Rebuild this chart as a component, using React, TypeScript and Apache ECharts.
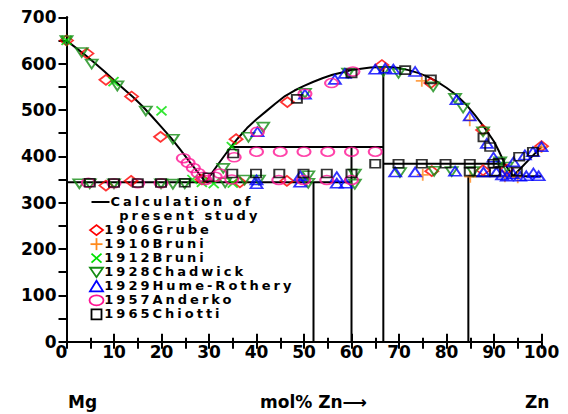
import React, { useEffect, useRef } from 'react';
import * as echarts from 'echarts';

// ---------- calculated phase boundaries (mol% Zn, °C) ----------
const calcMgLiquidus = [[0, 650], [2, 634], [4, 618], [6, 601], [8, 583], [10, 564], [12, 546], [14, 528], [16, 508], [18, 486], [20, 463], [22, 440], [24, 414], [26, 387], [28, 361], [29.3, 344]];
const calcMgZn2Liquidus = [[29.3, 344], [30.5, 362], [32, 384], [33.5, 405], [34.6, 420], [36, 438], [38, 461], [40, 480], [42, 497], [44, 514], [46, 530], [48, 542], [50, 552], [52, 561], [54, 569], [56, 576], [58, 581], [60, 586], [62, 589], [64, 591.5], [66.7, 593], [68, 592.5], [70, 590.5], [72, 586], [74, 580], [76, 572], [78, 561], [80, 548], [82, 533], [84, 513], [86, 489], [88, 462], [90, 432], [91, 412], [92.3, 383]];
const calcZnLiquidus = [[92.3, 383], [94, 357], [100, 421]];
const calcEutecticMg = [[0, 344], [60, 344]];
const calcPeritectic420 = [[34.6, 420], [66.7, 420]];
const calcMg12Zn13 = [[52, 344], [52, 0]];
const calcMg2Zn3 = [[60, 420], [60, 0]];
const calcMgZn2 = [[66.7, 593], [66.7, 0]];
const calcPeritectic383 = [[66.7, 384], [92.3, 384]];
const calcEutecticZn = [[84.6, 357], [100, 357]];
const calcMg2Zn11 = [[84.6, 357], [84.6, 0]];

// ---------- experimental data ----------
const grube1906 = [[0, 650], [4.3, 622], [8.3, 565], [13.7, 529], [19.8, 442], [35.7, 437], [46.5, 517], [66.4, 597], [76.7, 558], [87.6, 457], [100, 422], [8.3, 337], [13.6, 347], [28.5, 350], [36.5, 344], [46.4, 347], [76.9, 368], [87.7, 370], [92.7, 372]];
const bruni1910 = [[74.8, 563], [84.9, 478], [100, 420], [75, 360], [85, 356], [92.3, 357], [95, 355]];
const bruni1912 = [[0, 650], [9.9, 561], [20, 498], [34.8, 421], [26.5, 350], [28.5, 344], [31, 341], [35, 342]];
const chadwick1928 = [[0, 650], [3.2, 624], [5.3, 599], [10.7, 552], [16.7, 498], [22.4, 437], [33, 374], [38.3, 441], [41.4, 463], [50.2, 536], [59.3, 580], [66.7, 583], [69.9, 579], [77.2, 550], [81.8, 525], [83.5, 504], [87.7, 453], [91.3, 388], [2.7, 341], [4.9, 341], [10, 341], [19.9, 341], [22.4, 340], [24.9, 341], [33.4, 343], [37.5, 349], [40.5, 349], [50.9, 358], [50.9, 342], [60.7, 362], [60.7, 340], [70.2, 365], [77.4, 368], [81.1, 367], [85.6, 367], [92.7, 377]];
const humeRothery1929 = [[40.2, 453], [50.2, 534], [56.5, 566], [58.6, 579], [65, 588], [67.1, 590], [68.8, 588], [73.4, 583], [82.1, 522], [84.9, 487], [88.5, 428], [89.9, 398], [94.1, 388], [96.5, 403], [98.2, 410], [100, 421], [40, 349], [40, 341], [49.2, 358], [49.2, 344], [56.9, 356], [56.9, 342], [58.8, 342], [69.2, 366], [73.4, 366], [81.8, 368], [87.8, 366], [90.5, 366], [91.7, 360], [92.7, 357], [94, 362], [95.5, 357], [96.8, 358], [98.3, 364], [99.4, 358]];
const anderko1957 = [[4.6, 343], [10, 342], [15, 342], [19.9, 342], [24.6, 396], [25.6, 386], [26.7, 375], [27.7, 364], [28.8, 356], [29.2, 349], [31.3, 356], [32.3, 363], [35.3, 398], [34.8, 350], [44.7, 349], [49.9, 349], [54.8, 349], [60, 349], [40, 410], [45, 410], [50, 410], [55, 410], [60, 410], [65, 410], [40.2, 453], [50.2, 535], [55.8, 558], [60.3, 583]];
const chiotti1965 = [[4.9, 343], [10, 342.5], [15, 342.5], [19.9, 342.5], [24.9, 343], [29.9, 355], [35.1, 406], [34.9, 363], [39.9, 363], [44.8, 363], [49.9, 363], [54.8, 363], [60, 363], [48.5, 524], [60, 579], [65, 384], [69.9, 384], [74.8, 384], [79.8, 384], [84.9, 384], [89.9, 384], [71.3, 586], [76.7, 566], [87.8, 441], [89.2, 420], [91, 386], [95.3, 399], [98.2, 410], [84.9, 367], [90.2, 367], [94.8, 367]];

const seriesNames = ['1906Grube', '1910Bruni', '1912Bruni', '1928Chadwick', '1929Hume-Rothery', '1957Anderko', '1965Chiotti'];
const datasets = [grube1906, bruni1910, bruni1912, chadwick1928, humeRothery1929, anderko1957, chiotti1965];
const calcName = 'Calculation of present study';
const calcLines = ['Calculation of', 'present study'];
const bottomLabels = ['Mg', 'mol% Zn\u27F6', 'Zn'];

const colors = ['#ff0000', '#ff8a1c', '#00e000', '#148c14', '#0000ff', '#ff1493', '#000000'];
const symbols = [
  'diamond',
  'path://M5,0L5,10M0,5L10,5',
  'path://M0,0L10,10M10,0L0,10',
  'path://M0,0L10,0L5,8.66Z',
  'triangle',
  'path://M0,5A5,5,0,1,1,10,5A5,5,0,1,1,0,5Z',
  'rect',
];
const sizes = [[13, 10], [12, 12], [10, 9], [12, 9], [12, 9], [13, 9], [10, 8]];

const SPACED = 'Verdana, DejaVu Sans';
const PLAIN = 'DejaVu Sans';

function legendSymbol(i: number, cx: number, cy: number) {
  const st = { stroke: colors[i], fill: 'none', lineWidth: 1.8 };
  switch (i) {
    case 0:
      return [{ type: 'polygon', shape: { points: [[cx - 6.5, cy], [cx, cy - 5], [cx + 6.5, cy], [cx, cy + 5]] }, style: st }];
    case 1:
      return [
        { type: 'line', shape: { x1: cx - 6, y1: cy, x2: cx + 6, y2: cy }, style: st },
        { type: 'line', shape: { x1: cx, y1: cy - 6, x2: cx, y2: cy + 6 }, style: st },
      ];
    case 2:
      return [
        { type: 'line', shape: { x1: cx - 5, y1: cy - 4.5, x2: cx + 5, y2: cy + 4.5 }, style: st },
        { type: 'line', shape: { x1: cx + 5, y1: cy - 4.5, x2: cx - 5, y2: cy + 4.5 }, style: st },
      ];
    case 3:
      return [{ type: 'polygon', shape: { points: [[cx - 6.5, cy - 4.5], [cx + 6.5, cy - 4.5], [cx, cy + 5]] }, style: st }];
    case 4:
      return [{ type: 'polygon', shape: { points: [[cx, cy - 5.5], [cx + 6.5, cy + 5], [cx - 6.5, cy + 5]] }, style: st }];
    case 5:
      return [{ type: 'ellipse', shape: { cx, cy, rx: 7, ry: 5 }, style: st }];
    default:
      return [{ type: 'rect', shape: { x: cx - 5, y: cy - 5, width: 10, height: 10 }, style: st }];
  }
}

function buildOption() {
  const rowY = (k: number) => 202 + 14.05 * k;
  const legendFont = `bold 13px ${SPACED}`;
  const graphics: any[] = [];
  graphics.push({ type: 'line', shape: { x1: 91.5, y1: rowY(0), x2: 109.5, y2: rowY(0) }, style: { stroke: '#000', lineWidth: 2 } });
  graphics.push({ type: 'text', style: { text: calcLines[0], x: 110.5, y: rowY(0) - 0.8, verticalAlign: 'middle', align: 'left', fill: '#000', font: legendFont } });
  graphics.push({ type: 'text', style: { text: calcLines[1], x: 119.3, y: rowY(1) - 0.8, verticalAlign: 'middle', align: 'left', fill: '#000', font: legendFont } });
  seriesNames.forEach((n, i) => {
    const cy = rowY(i + 2);
    legendSymbol(i, 96.5, cy).forEach((g) => graphics.push(g));
    graphics.push({ type: 'text', style: { text: n, x: 104.3, y: cy - 0.8, verticalAlign: 'middle', align: 'left', fill: '#000', font: legendFont } });
  });
  const bx = [68, 260, 525];
  bottomLabels.forEach((t, i) => {
    graphics.push({ type: 'text', style: { text: t, x: bx[i], y: 402, verticalAlign: 'middle', align: 'left', fill: '#000', font: `bold 17px ${PLAIN}` } });
  });

  const calcSegs = [
    calcMgLiquidus, calcMgZn2Liquidus, calcZnLiquidus, calcEutecticMg, calcPeritectic420,
    calcMg12Zn13, calcMg2Zn3, calcMgZn2, calcPeritectic383, calcEutecticZn, calcMg2Zn11,
  ];

  const lineSeries = calcSegs.map((d) => ({
    type: 'line',
    name: calcName,
    data: d,
    symbol: 'none',
    showSymbol: false,
    silent: true,
    lineStyle: { color: '#000', width: 2 },
    z: 2,
  }));

  const scatterSeries = datasets.map((d, i) => ({
    type: 'scatter',
    name: seriesNames[i],
    data: d,
    symbol: symbols[i],
    symbolSize: sizes[i],
    silent: true,
    itemStyle: { color: 'rgba(255,255,255,0)', borderColor: colors[i], borderWidth: 1.8 },
    z: 3,
  }));

  const labelStyle = { color: '#000', fontFamily: PLAIN, fontWeight: 'bold' as const, fontSize: 17 };

  return {
    animation: false,
    backgroundColor: '#fff',
    grid: { left: 66.5, right: 26.5, top: 17.3, bottom: 72.3 },
    xAxis: [
      {
        type: 'value', min: 0, max: 100, interval: 10, position: 'bottom',
        axisLine: { lineStyle: { color: '#000', width: 2 } },
        axisTick: { inside: true, length: 8, lineStyle: { color: '#000', width: 2 } },
        minorTick: { show: true, splitNumber: 2, length: 4, lineStyle: { color: '#000', width: 2 } },
        splitLine: { show: false },
        minorSplitLine: { show: false },
        axisLabel: {
          ...labelStyle, margin: 2,
          formatter: (v: number) => (v === 0 ? '{z|0}' : String(v)),
          rich: { z: { ...labelStyle, padding: [0, 10, 0, 0] } },
        },
      },
      {
        type: 'value', min: 0, max: 100, interval: 5, position: 'top',
        axisLine: { lineStyle: { color: '#000', width: 2 } },
        axisTick: { inside: true, length: 7, lineStyle: { color: '#000', width: 2 } },
        splitLine: { show: false },
        axisLabel: { show: false },
      },
    ],
    yAxis: [
      {
        type: 'value', min: 0, max: 700, interval: 100, position: 'left',
        axisLine: { lineStyle: { color: '#000', width: 2 } },
        axisTick: { inside: false, length: 6, lineStyle: { color: '#000', width: 2 } },
        minorTick: { show: true, splitNumber: 2, length: 6, lineStyle: { color: '#000', width: 2 } },
        splitLine: { show: false },
        minorSplitLine: { show: false },
        axisLabel: { ...labelStyle, margin: 10 },
      },
      {
        type: 'value', min: 0, max: 700, interval: 50, position: 'right',
        axisLine: { lineStyle: { color: '#000', width: 2 } },
        axisTick: { inside: true, length: 8, lineStyle: { color: '#000', width: 2 } },
        splitLine: { show: false },
        axisLabel: { show: false },
      },
    ],
    graphic: graphics,
    series: [...lineSeries, ...scatterSeries],
  };
}

export default function App() {
  const ref = useRef<HTMLDivElement>(null);
  useEffect(() => {
    if (!ref.current) return;
    const chart = echarts.init(ref.current, null, { renderer: 'svg' });
    chart.setOption(buildOption() as any);
    return () => chart.dispose();
  }, []);
  return (
    <>
      <style>{`#root svg text[style*="Verdana"]{letter-spacing:3px;} body{margin:0;}`}</style>
      <div ref={ref} style={{ position: 'absolute', left: 0, top: 0, width: 568, height: 414, background: '#fff' }} />
    </>
  );
}
